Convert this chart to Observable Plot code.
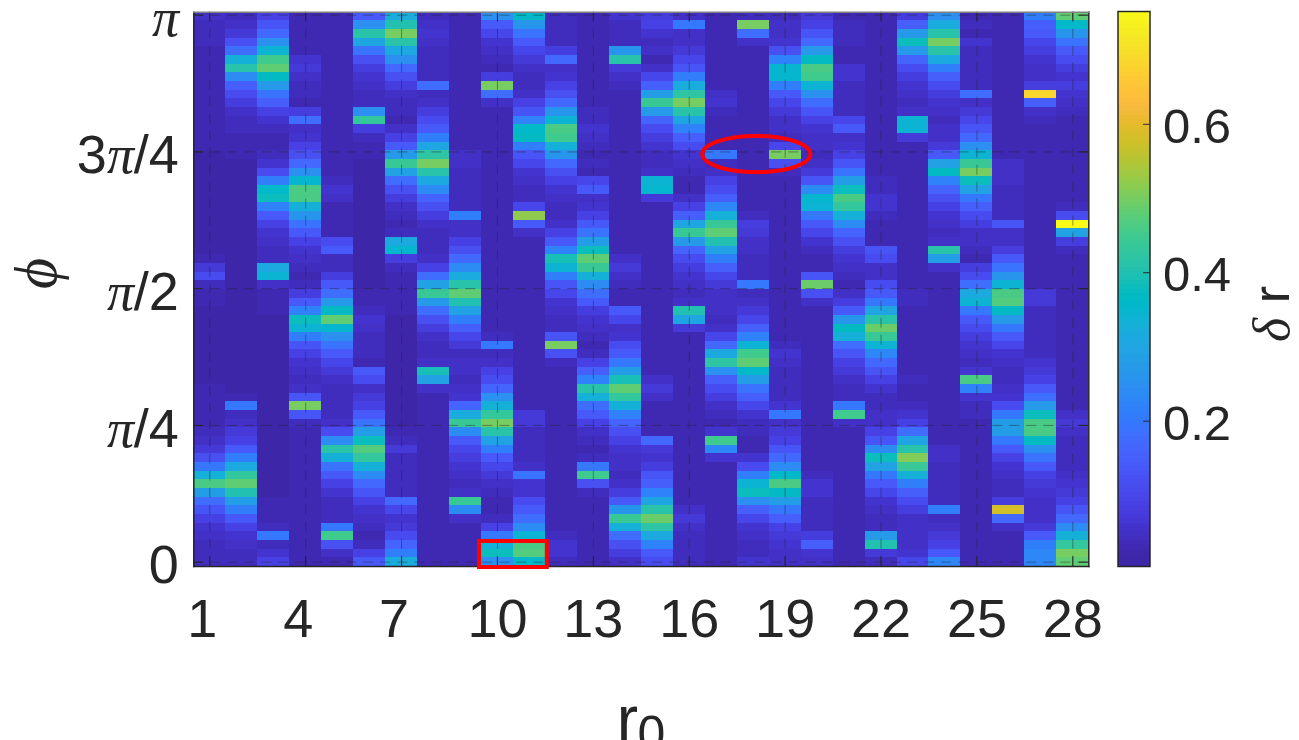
<!DOCTYPE html>
<html><head><meta charset="utf-8">
<script src="https://cdn.jsdelivr.net/npm/d3@7"></script>
<script src="https://cdn.jsdelivr.net/npm/@observablehq/plot@0.6"></script>
<style>
@font-face{font-family:"GreekItalic";src:local("Liberation Serif Italic"),local("LiberationSerif-Italic");unicode-range:U+0370-03FF;}
html,body{margin:0;padding:0;background:#fff}
#wrap{position:relative;width:1299px;height:740px;overflow:hidden}
#wrap svg{position:absolute;left:0;top:0;background:transparent}
</style></head><body><div id="wrap"></div>
<script>
// delta r in hundredths, each list runs from phi = pi (top row) down to phi = 0
const c01=[5,4,4,4,3,3,3,3,3,3, 3,3,3,3,3,3,2,2,2,2, 2,2,2,2,2,2,2,2,3,7, 11,4,3,3,2,2,2,2,2,2, 2,2,2,3,3,3,3,3,4,5, 7,12,20,33,46,28,18,13,9,6, 5,4,4,4];
const c02=[4,5,7,12,18,33,41,24,15,11, 8,5,4,4,3,3,3,2,2,2, 2,2,2,2,2,2,2,2,2,2, 2,2,2,2,2,2,2,2,2,2, 2,2,2,2,3,20,4,5,7,9, 14,21,31,43,48,40,28,21,14,9, 6,5,4,4];
const c03=[9,13,17,25,34,45,48,37,27,19, 15,9,6,4,3,3,4,6,11,21, 36,38,22,14,9,6,5,4,4,31, 34,5,3,3,3,2,2,2,2,2, 2,2,2,2,2,2,2,2,2,2, 2,2,2,2,2,2,3,3,3,4, 20,4,6,9];
const c04=[3,3,3,3,3,6,7,5,4,4, 3,8,18,5,6,9,12,17,25,35, 46,46,33,26,19,14,9,6,5,4, 3,4,8,14,22,38,34,21,13,9, 6,5,4,5,13,50,13,4,3,3, 3,3,3,3,3,3,3,3,3,3, 3,3,3,3];
const c05=[3,3,3,3,3,3,3,3,3,3, 3,3,3,3,3,3,3,3,3,4, 6,5,3,3,3,3,11,14,4,4, 8,14,18,27,37,48,35,25,19,14, 10,7,5,4,4,4,4,5,11,24, 41,33,19,14,9,6,4,4,4,20, 45,12,5,3];
const c06=[14,25,41,30,19,12,8,6,5,4, 4,25,43,8,4,3,3,2,2,2, 2,2,2,2,2,2,2,2,2,2, 2,2,3,3,4,6,5,4,4,4, 3,14,11,5,7,9,14,19,28,38, 47,43,33,24,17,13,9,6,5,4, 3,4,9,14];
const c07=[32,40,50,41,31,25,17,12,8,5, 4,4,3,5,9,14,27,44,29,18, 12,8,5,4,3,4,31,35,8,4, 3,3,3,3,3,2,2,2,2,2, 2,2,2,2,2,2,2,2,3,4, 7,4,4,4,4,4,17,10,6,7, 11,16,21,32];
const c08=[4,5,6,5,4,4,4,4,18,4, 5,8,11,14,21,30,42,50,41,31, 24,16,12,8,5,4,4,4,5,9, 18,29,44,27,18,12,8,5,4,4, 5,39,29,5,3,3,3,3,3,3, 3,3,3,3,3,3,3,3,3,3, 3,3,3,3];
const c09=[3,3,3,3,3,3,3,3,3,3, 3,3,3,3,3,3,5,5,4,4, 4,4,4,21,5,5,9,12,17,24, 32,41,48,40,29,21,15,10,7,4, 5,5,4,5,6,16,32,44,24,14, 10,8,6,5,4,5,44,24,5,3, 3,3,3,3];
const c10=[25,14,10,6,5,4,3,8,50,18, 5,3,3,3,3,3,3,3,3,3, 3,3,3,3,3,3,3,3,3,3, 3,3,3,3,3,3,3,4,20,4, 5,9,11,16,25,33,43,50,41,29, 21,14,10,7,5,4,3,3,4,9, 20,33,38,25];
const c11=[36,26,19,14,10,7,5,4,4,5, 9,13,22,36,37,21,13,10,6,5, 4,4,10,52,14,5,3,3,3,3, 3,3,3,3,3,3,3,3,3,3, 3,3,3,3,3,3,7,7,4,4, 4,4,5,19,6,6,11,14,18,24, 34,46,47,36];
const c12=[4,4,4,4,8,17,5,6,9,12, 17,26,34,46,45,33,26,17,12,9, 6,5,4,4,5,9,14,22,39,34, 21,13,10,6,5,4,4,13,50,12, 4,3,3,3,3,3,3,3,3,3, 3,3,3,3,3,3,3,3,3,3, 4,6,6,4];
const c13=[3,3,3,3,3,3,3,3,3,3, 3,4,4,6,5,4,3,4,3,10, 14,5,6,9,14,19,28,38,48,44, 33,24,18,14,8,6,5,4,3,4, 9,15,22,41,33,18,14,9,5,4, 3,4,20,45,12,4,3,3,3,3, 3,3,3,3];
const c14=[6,4,4,4,26,41,7,5,4,3, 3,3,3,3,3,3,3,3,3,3, 3,3,3,3,3,3,3,3,5,7, 5,4,3,3,14,10,5,6,11,14, 20,28,39,48,43,33,22,16,12,9, 6,5,5,4,5,8,14,26,44,33, 18,12,8,5];
const c15=[8,9,6,4,5,3,5,10,15,28, 44,27,16,11,8,6,4,4,5,34, 35,7,3,3,3,3,3,3,3,3, 3,3,3,3,3,3,3,3,3,3, 3,3,5,7,5,3,3,3,3,17, 7,6,8,13,15,22,30,41,49,42, 31,22,14,11];
const c16=[5,20,5,5,7,10,13,21,32,42, 50,41,30,22,15,11,6,5,4,3, 3,5,9,15,30,44,27,16,11,8, 6,5,4,5,40,30,7,3,3,3, 3,3,3,3,3,3,3,3,3,3, 3,3,3,3,3,3,3,5,7,5, 4,4,4,4];
const c17=[3,3,3,3,3,3,3,3,3,5, 6,4,3,3,3,3,20,4,5,9, 11,15,23,33,44,48,40,29,21,15, 10,7,5,5,5,4,5,10,17,31, 42,25,15,11,8,5,4,3,6,45, 23,6,3,3,3,3,3,3,3,3, 3,3,3,3];
const c18=[4,50,18,5,3,3,3,3,3,3, 3,3,3,3,3,3,3,3,3,3, 3,3,3,4,8,7,5,5,4,4, 4,20,4,5,7,10,15,22,34,45, 48,36,28,19,15,10,6,4,4,3, 3,6,11,21,34,38,25,15,10,6, 5,4,4,6];
const c19=[4,5,5,6,12,22,35,35,21,14, 10,7,5,5,4,10,50,12,4,3, 3,3,3,3,3,3,3,3,3,3, 3,3,3,3,3,3,3,3,4,6, 5,4,4,4,4,6,20,5,7,9, 13,17,24,36,46,37,28,20,15,9, 7,6,5,5];
const c20=[7,9,13,17,27,37,46,45,34,25, 18,13,9,6,5,5,4,5,7,13, 24,35,34,20,14,10,6,4,3,3, 13,49,12,5,3,3,3,3,3,3, 3,3,3,3,3,3,3,3,3,3, 3,3,3,4,6,6,4,4,4,4, 8,15,6,5];
const c21=[3,4,4,4,3,3,6,6,4,4, 4,4,10,14,5,6,9,13,19,28, 38,46,43,33,24,16,12,8,6,5, 4,3,5,8,14,26,37,33,18,13, 9,7,5,4,4,20,45,5,3,3, 3,3,3,3,3,3,3,3,3,3, 3,3,3,3];
const c22=[3,3,3,3,3,3,3,3,3,3, 3,3,3,3,3,3,3,3,3,4, 4,6,6,4,3,3,3,13,11,5, 5,11,14,20,30,41,49,44,34,23, 17,13,9,6,4,4,5,5,9,13, 24,38,29,20,14,10,6,5,4,4, 27,40,7,4];
const c23=[8,15,27,38,27,16,11,8,6,5, 4,5,34,34,7,3,3,3,3,3, 3,3,3,3,3,3,3,3,3,3, 3,3,4,4,3,3,3,3,3,3, 3,3,4,3,3,4,6,9,18,30, 41,51,44,33,21,15,11,8,5,5, 5,5,6,10];
const c24=[25,32,41,50,41,31,21,15,11,8, 6,5,4,5,5,7,14,29,37,22, 16,12,9,6,5,4,5,41,28,5, 3,3,3,3,3,3,3,3,3,3, 3,3,3,3,3,3,3,3,3,3, 5,5,4,4,4,4,4,21,4,5, 7,9,14,23];
const c25=[3,4,3,6,4,4,4,4,4,18, 5,7,10,13,17,25,34,44,50,38, 29,20,15,11,8,5,5,4,3,8, 11,18,31,34,20,14,11,8,6,5, 4,6,46,22,6,4,4,3,3,3, 3,3,3,3,3,3,3,3,3,3, 3,3,3,3];
const c26=[3,3,3,3,3,3,3,3,3,3, 3,3,3,3,3,3,3,5,5,5, 4,4,4,4,13,5,5,8,14,19, 26,34,46,47,37,27,20,14,10,6, 5,4,4,5,6,11,20,28,28,20, 14,9,6,5,4,4,8,58,17,5, 3,3,3,3];
const c27=[21,15,14,10,8,6,5,5,8,68, 15,5,4,3,3,3,3,3,3,3, 3,3,3,3,3,3,3,3,3,3, 3,3,7,7,4,4,4,4,4,4, 6,7,9,14,18,27,38,46,46,37, 25,19,14,9,7,6,5,5,5,7, 14,21,23,23];
const c28=[48,36,26,19,14,11,8,6,8,6, 5,4,3,3,3,3,3,3,3,3, 3,3,4,11,75,29,8,4,3,3, 3,3,3,3,3,3,3,3,3,3, 3,3,3,3,3,3,5,7,5,4, 4,4,4,5,6,7,9,13,17,24, 33,43,50,48];
const columns=[c01,c02,c03,c04,c05,c06,c07,c08,c09,c10,c11,c12,c13,c14,c15,c16,c17,c18,c19,c20,c21,c22,c23,c24,c25,c26,c27,c28];

const xTicks=[1,4,7,10,13,16,19,22,25,28];
const yTicks=[0,Math.PI/4,Math.PI/2,3*Math.PI/4,Math.PI];
const yLabels=["0","π/4","π/2","3π/4","π"];
const cbTicks=[0.2,0.4,0.6];
const cbDomain=[0.0042,0.752];
const colorDomain=[0.02,0.752];

const parula=[[.2422,.1504,.6603],[.2504,.165,.7076],[.2578,.1818,.7511],[.2647,.1978,.7952],[.2706,.2147,.8364],[.2751,.2342,.871],[.2783,.2559,.8991],[.2803,.2782,.9221],[.2813,.3006,.9414],[.281,.3228,.9579],[.2795,.3447,.9717],[.276,.3667,.9829],[.2699,.3892,.9906],[.2602,.4123,.9952],[.244,.4358,.9988],[.2206,.4603,.9973],[.1963,.4847,.9892],[.1834,.5074,.9798],[.1786,.5289,.9682],[.1764,.5499,.952],[.1687,.5703,.9359],[.154,.5902,.9218],[.146,.6091,.9079],[.138,.6276,.8973],[.1248,.6459,.8883],[.1113,.6635,.8763],[.0952,.6798,.8598],[.0689,.6948,.8394],[.0297,.7082,.8163],[.0036,.7203,.7917],[.0067,.7312,.766],[.0433,.7411,.7394],[.0964,.75,.712],[.1408,.7584,.6842],[.1717,.767,.6554],[.1938,.7758,.6251],[.2161,.7843,.5923],[.247,.7918,.5567],[.2906,.7973,.5188],[.3406,.8008,.4789],[.3909,.8029,.4354],[.4456,.8024,.3909],[.5044,.7993,.348],[.5616,.7942,.3045],[.6174,.7876,.2612],[.672,.7793,.2227],[.7242,.7698,.191],[.7738,.7598,.1646],[.8203,.7498,.1535],[.8634,.7406,.1596],[.9035,.733,.1774],[.9393,.7288,.21],[.9728,.7298,.2394],[.9956,.7434,.2371],[.997,.7659,.2199],[.9952,.7893,.2028],[.9892,.8136,.1885],[.9786,.8386,.1766],[.9676,.8639,.1643],[.961,.889,.1537],[.9597,.9135,.1423],[.9628,.9373,.1265],[.9691,.9606,.1064],[.9769,.9839,.0805]]
  .map(([r,g,b])=>`rgb(${Math.round(r*255)},${Math.round(g*255)},${Math.round(b*255)})`);

const INK="#262626";
const step=Math.PI/63.16;
const yDom=[-0.02487,3.1588];
const xDom=[0.5,28.5];
const cells=columns.flatMap((col,i)=>col.map((v,k)=>({r0:i+1,phi:(63-k)*step,v:v/100})));
const colorScale={type:"linear",domain:colorDomain,range:parula,clamp:true};
const font={fontFamily:"GreekItalic,'Liberation Sans',Arial,sans-serif",color:INK,background:"transparent",overflow:"visible"};
const FS=54, CBFS=49;

// red annotations: box around r0 = 10-11 near phi = 0, ellipse around r0 = 17-19 near 3pi/4
const box={x1:9.44,x2:11.56,y1:-0.0307,y2:0.1187};
const ell={x:18.1,y:2.344,rx:1.69,ry:0.104};
const ellPts=d3.range(0,361,3).map(a=>({x:ell.x+ell.rx*Math.cos(a*Math.PI/180),y:ell.y+ell.ry*Math.sin(a*Math.PI/180)}));

const main=Plot.plot({
  width:1299,height:740,marginLeft:193.3,marginRight:210.7,marginTop:11.67,marginBottom:174,
  style:font,
  x:{domain:xDom,label:null},
  y:{domain:yDom,label:null},
  color:colorScale,
  marks:[
    Plot.rect(cells,{x1:d=>d.r0-0.5,x2:d=>d.r0+0.5,y1:d=>d.phi-step/2,y2:d=>d.phi+step/2,fill:"v",shapeRendering:"crispEdges"}),
    Plot.ruleX(xTicks,{stroke:INK,strokeOpacity:0.45,strokeDasharray:"10,7",strokeWidth:1}),
    Plot.ruleY(yTicks,{stroke:INK,strokeOpacity:0.45,strokeDasharray:"10,7",strokeWidth:1}),
    Plot.ruleX(xTicks,{y1:yDom[0],y2:yDom[0]+0.055,stroke:INK,strokeWidth:1}),
    Plot.ruleX(xTicks,{y1:yDom[1],y2:yDom[1]-0.055,stroke:INK,strokeWidth:1}),
    Plot.ruleY(yTicks,{x1:xDom[0],x2:xDom[0]+0.3,stroke:INK,strokeWidth:1}),
    Plot.ruleY(yTicks,{x1:xDom[1],x2:xDom[1]-0.3,stroke:INK,strokeWidth:1}),
    Plot.frame({anchor:"left",stroke:INK,strokeWidth:1.5}),
    Plot.frame({anchor:"right",stroke:INK,strokeWidth:1.5}),
    Plot.frame({anchor:"bottom",stroke:INK,strokeWidth:1.5}),
    Plot.frame({anchor:"top",stroke:"#808080",strokeWidth:1.5}),
    Plot.axisX(xTicks,{anchor:"bottom",tickSize:0,tickPadding:32,fontSize:FS,tickFormat:d=>d<10?d+"\u00a0":String(d),label:null}),
    Plot.axisY(yTicks,{anchor:"left",tickSize:0,tickPadding:15,dy:4,fontSize:FS,tickFormat:(d,i)=>yLabels[i],label:null}),
    Plot.text(["r"],{frameAnchor:"bottom",dx:-14,dy:154,fontSize:64,fill:INK,lineAnchor:"middle",fontFamily:"'Liberation Sans',sans-serif"}),
    Plot.text(["0"],{frameAnchor:"bottom",dx:10,dy:168,fontSize:50,fill:INK,lineAnchor:"middle",fontFamily:"'Liberation Sans',sans-serif"}),
    Plot.text(["ϕ"],{frameAnchor:"left",dx:-157,rotate:-90,fontSize:60,fill:INK}),
    Plot.rect([box],{x1:"x1",x2:"x2",y1:"y1",y2:"y2",fill:"none",stroke:"#ff0000",strokeWidth:4}),
    Plot.line(ellPts,{x:"x",y:"y",stroke:"#ff0000",strokeWidth:4})
  ]
});

const cbRows=d3.range(0,128).map(i=>({a:cbDomain[0]+(cbDomain[1]-cbDomain[0])*i/128,b:cbDomain[0]+(cbDomain[1]-cbDomain[0])*(i+1)/128}));
const bar=Plot.plot({
  width:1299,height:740,marginLeft:1117.5,marginRight:149.5,marginTop:11,marginBottom:174,
  style:font,
  x:{domain:[0,1],axis:null},
  y:{domain:cbDomain,label:null},
  color:colorScale,
  marks:[
    Plot.rect(cbRows,{x1:0,x2:1,y1:"a",y2:"b",fill:d=>(d.a+d.b)/2,shapeRendering:"crispEdges"}),
    Plot.ruleY(cbTicks,{x1:0.8,x2:1,stroke:INK,strokeWidth:1}),
    Plot.frame({stroke:INK,strokeWidth:1.5}),
    Plot.axisY(cbTicks,{anchor:"right",tickSize:0,tickPadding:13,dy:3,fontSize:CBFS,tickFormat:d=>d.toFixed(1),label:null}),
    Plot.text(["δ r"],{frameAnchor:"right",dx:122,dy:-3,rotate:-90,fontSize:52,fill:INK})
  ]
});
document.getElementById("wrap").append(main,bar);
</script></body></html>
